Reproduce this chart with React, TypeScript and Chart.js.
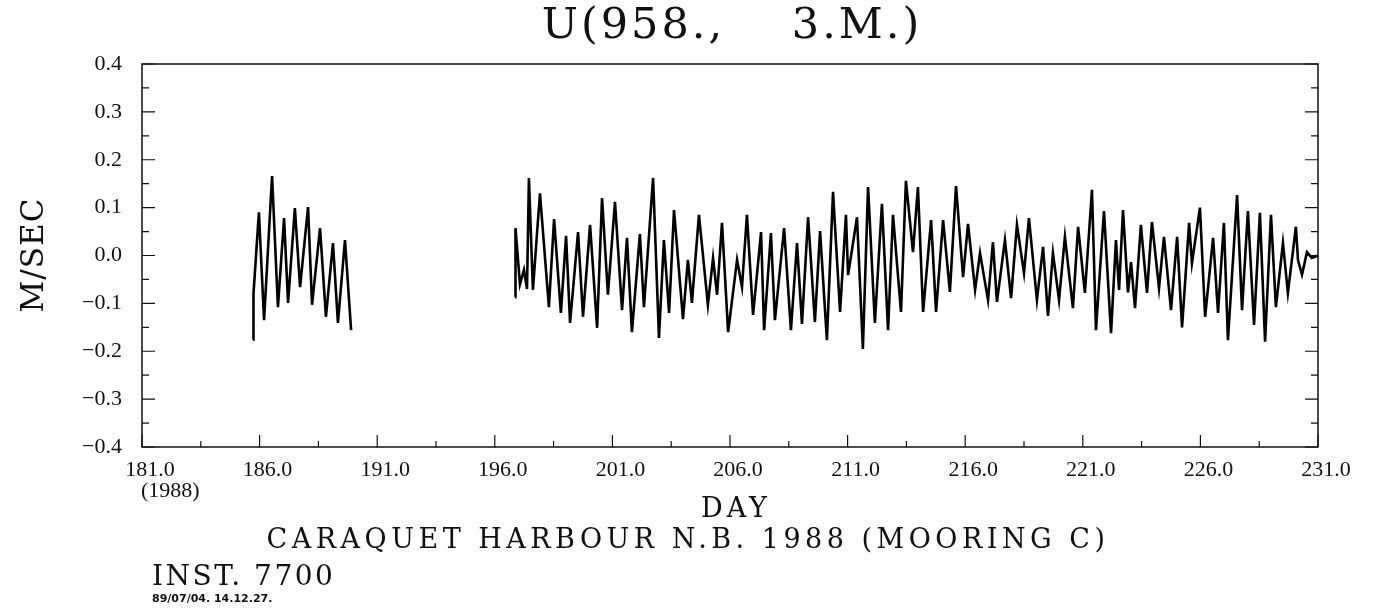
import { useEffect, useRef } from 'react';
import { Chart, registerables } from 'chart.js';

Chart.register(...registerables);

// Segment 1 (days 185.7 - 189.9)
const seg1Days = [185.72, 185.74, 185.97, 186.19, 186.53, 186.78, 187.04, 187.21, 187.50, 187.72, 188.06, 188.23, 188.57, 188.82, 189.12, 189.33, 189.63, 189.89];
const seg1Vals = [-0.176, -0.08, 0.09, -0.135, 0.166, -0.108, 0.078, -0.099, 0.099, -0.066, 0.101, -0.103, 0.057, -0.128, 0.026, -0.141, 0.032, -0.156];

// Segment 2 (days 196.9 - 231.0)
const seg2Days = [
  196.86, 196.88, 197.07, 197.24, 197.37, 197.45, 197.62, 197.92, 198.30, 198.52,
  198.81, 199.03, 199.20, 199.54, 199.75, 200.05, 200.35, 200.56, 200.81, 201.11,
  201.41, 201.62, 201.83, 202.17, 202.34, 202.73, 202.98, 203.19, 203.41, 203.62,
  204.00, 204.21, 204.38, 204.68, 205.06, 205.28, 205.45, 205.66, 205.92, 206.30,
  206.51, 206.72, 206.98, 207.32, 207.45, 207.74, 207.91, 208.30, 208.59, 208.85,
  209.06, 209.32, 209.61, 209.83, 210.12, 210.38, 210.68, 210.93, 211.02, 211.40,
  211.65, 211.87, 212.16, 212.46, 212.72, 212.93, 213.27, 213.48, 213.78, 213.99,
  214.21, 214.55, 214.76, 215.06, 215.35, 215.61, 215.91, 216.12, 216.42, 216.63,
  216.97, 217.18, 217.35, 217.69, 217.95, 218.20, 218.50, 218.71, 219.05, 219.31,
  219.52, 219.73, 219.99, 220.24, 220.58, 220.80, 221.09, 221.39, 221.56, 221.90,
  222.20, 222.41, 222.54, 222.71, 222.92, 223.05, 223.22, 223.47, 223.73, 223.94,
  224.24, 224.45, 224.75, 225.01, 225.22, 225.52, 225.64, 225.98, 226.20, 226.54,
  226.75, 227.00, 227.17, 227.56, 227.77, 228.02, 228.28, 228.53, 228.75, 229.00,
  229.21, 229.51, 229.72, 230.06, 230.15, 230.32, 230.53, 230.74, 231.00,
];
const seg2Vals = [
  -0.087, 0.057, -0.06, -0.03, -0.07, 0.162, -0.072, 0.13, -0.108, 0.076,
  -0.12, 0.041, -0.141, 0.049, -0.128, 0.064, -0.151, 0.12, -0.082, 0.112,
  -0.114, 0.037, -0.16, 0.045, -0.108, 0.162, -0.172, 0.032, -0.12, 0.095,
  -0.133, -0.009, -0.099, 0.085, -0.103, -0.005, -0.082, 0.068, -0.16, -0.009,
  -0.066, 0.085, -0.124, 0.049, -0.156, 0.047, -0.135, 0.057, -0.156, 0.026,
  -0.143, 0.08, -0.139, 0.051, -0.177, 0.133, -0.118, 0.085, -0.041, 0.08,
  -0.195, 0.143, -0.141, 0.108, -0.156, 0.085, -0.118, 0.156, 0.007, 0.143,
  -0.118, 0.074, -0.118, 0.074, -0.076, 0.145, -0.045, 0.066, -0.072, 0.005,
  -0.093, 0.028, -0.097, 0.032, -0.089, 0.064, -0.037, 0.078, -0.093, 0.018,
  -0.126, 0.005, -0.093, 0.039, -0.11, 0.06, -0.078, 0.137, -0.156, 0.093,
  -0.162, 0.032, -0.072, 0.095, -0.077, -0.014, -0.11, 0.064, -0.078, 0.07,
  -0.068, 0.039, -0.114, 0.039, -0.15, 0.068, -0.016, 0.1, -0.128, 0.037,
  -0.12, 0.068, -0.177, 0.126, -0.114, 0.093, -0.145, 0.089, -0.18, 0.085,
  -0.108, 0.026, -0.078, 0.06, -0.01, -0.04, 0.007, -0.005, 0.0,
];

const xTickValues = [181, 186, 191, 196, 201, 206, 211, 216, 221, 226, 231];
const yTickValues = [-0.4, -0.3, -0.2, -0.1, 0.0, 0.1, 0.2, 0.3, 0.4];
const xMinorStep = 2.5;
const yMinorStep = 0.05;

const titleText = 'U(958.,    3.M.)';
const yTitle = 'M/SEC';
const xTitle = 'DAY';
const subTitle = 'CARAQUET HARBOUR N.B. 1988 (MOORING C)';
const instText = 'INST. 7700';
const stampText = '89/07/04. 14.12.27.';
const yearText = '(1988)';

const SERIF = '"DejaVu Serif", "Liberation Serif", serif';
const TICKFONT = '"Liberation Serif", serif';

export default function App() {
  const ref = useRef<HTMLCanvasElement | null>(null);

  useEffect(() => {
    document.body.style.margin = '0';
    const canvas = ref.current;
    if (!canvas) return;

    const points: { x: number; y: number | null }[] = [];
    seg1Days.forEach((d, i) => points.push({ x: d, y: seg1Vals[i] }));
    points.push({ x: 193, y: null });
    seg2Days.forEach((d, i) => points.push({ x: d, y: seg2Vals[i] }));

    const decor = {
      id: 'decor',
      afterDraw(chart: any) {
        const ctx = chart.ctx as CanvasRenderingContext2D;
        const a = chart.chartArea;
        const xs = chart.scales.x;
        const ys = chart.scales.y;
        ctx.save();
        ctx.strokeStyle = '#111';
        ctx.lineWidth = 1.5;
        ctx.strokeRect(a.left, a.top, a.right - a.left, a.bottom - a.top);
        ctx.lineWidth = 1.2;
        for (let v = xs.min; v <= xs.max + 1e-9; v += xMinorStep) {
          const major = Math.abs((v - xs.min) % 5) < 1e-6;
          const px = xs.getPixelForValue(v);
          const len = major ? 12 : 6;
          ctx.beginPath();
          ctx.moveTo(px, a.bottom);
          ctx.lineTo(px, a.bottom - len);
          ctx.stroke();
        }
        for (let k = 0; k <= 16; k++) {
          const v = ys.min + k * yMinorStep;
          const major = k % 2 === 0;
          const py = ys.getPixelForValue(v);
          const len = major ? 13 : 7;
          ctx.beginPath();
          ctx.moveTo(a.left, py);
          ctx.lineTo(a.left + len, py);
          ctx.moveTo(a.right, py);
          ctx.lineTo(a.right - len, py);
          ctx.stroke();
        }
        ctx.fillStyle = '#111';
        const setLS = (s: string) => {
          (ctx as any).letterSpacing = s;
        };
        ctx.font = `43px ${SERIF}`;
        setLS('3px');
        ctx.textAlign = 'center';
        ctx.textBaseline = 'alphabetic';
        ctx.fillText(titleText, 732, 38);
        ctx.font = `27px ${SERIF}`;
        setLS('4px');
        ctx.fillText(xTitle, 736, 517);
        setLS('4.5px');
        ctx.fillText(subTitle, 688, 548);
        ctx.textAlign = 'left';
        ctx.font = `28px ${SERIF}`;
        setLS('2.5px');
        ctx.fillText(instText, 152, 585);
        ctx.font = `22px ${TICKFONT}`;
        setLS('0px');
        ctx.fillText(yearText, 141, 497);
        ctx.font = `bold 11px "DejaVu Sans", sans-serif`;
        ctx.fillText(stampText, 152, 602);
        ctx.save();
        ctx.translate(43, 255);
        ctx.rotate(-Math.PI / 2);
        ctx.textAlign = 'center';
        ctx.font = `31px ${SERIF}`;
        setLS('1px');
        ctx.fillText(yTitle, 0, 0);
        ctx.restore();
        ctx.restore();
      },
    };

    const chart = new Chart(canvas, {
      type: 'line',
      data: {
        datasets: [
          {
            data: points as any,
            borderColor: '#000',
            borderWidth: 2.6,
            pointRadius: 0,
            tension: 0,
            spanGaps: false,
            fill: false,
          },
        ],
      },
      options: {
        responsive: false,
        animation: false,
        devicePixelRatio: 1,
        layout: { padding: { top: 64, right: 56, bottom: 0, left: 0 } },
        plugins: { legend: { display: false }, tooltip: { enabled: false }, title: { display: false } },
        scales: {
          x: {
            type: 'linear',
            min: 181,
            max: 231,
            afterBuildTicks: (s: any) => {
              s.ticks = xTickValues.map((v) => ({ value: v }));
            },
            afterFit: (s: any) => {
              s.height = 164;
            },
            grid: { display: false, drawTicks: false },
            border: { display: false },
            ticks: {
              autoSkip: false,
              maxRotation: 0,
              padding: 10,
              labelOffset: 8,
              color: '#111',
              font: { family: TICKFONT, size: 22 },
              callback: (v: any) => Number(v).toFixed(1),
            },
          },
          y: {
            type: 'linear',
            min: -0.4,
            max: 0.4,
            afterBuildTicks: (s: any) => {
              s.ticks = yTickValues.map((v) => ({ value: v }));
            },
            afterFit: (s: any) => {
              s.width = 142;
            },
            grid: { display: false, drawTicks: false },
            border: { display: false },
            ticks: {
              autoSkip: false,
              padding: 20,
              color: '#111',
              font: { family: TICKFONT, size: 22 },
              callback: (v: any) => Number(v).toFixed(1).replace('-', '\u2212'),
            },
          },
        },
      },
      plugins: [decor],
    });

    return () => chart.destroy();
  }, []);

  return (
    <div style={{ position: 'absolute', left: 0, top: 0, width: 1374, height: 611, background: '#fff' }}>
      <canvas ref={ref} width={1374} height={611} />
    </div>
  );
}
